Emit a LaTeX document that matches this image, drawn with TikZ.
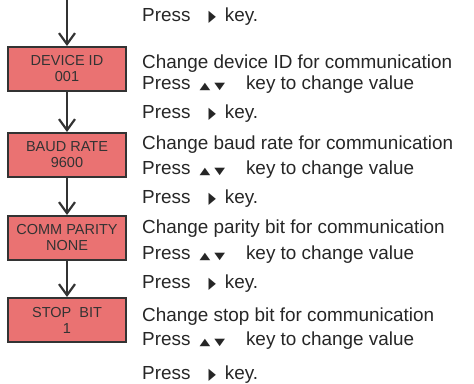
\documentclass[tikz,border=0pt]{standalone}
\usepackage{fontspec}
\setmainfont{Liberation Sans}
\newfontfamily\symf{DejaVu Sans}
\usetikzlibrary{arrows.meta}

\definecolor{boxred}{RGB}{234,114,114}
\definecolor{ink}{RGB}{51,51,51}

% key glyphs
\newcommand{\rkey}{\hspace{18pt}{\symf\fontsize{16}{16}\selectfont\scalebox{0.6}[1]{▶}}\hspace{9pt}}
\newcommand{\udkey}{\hspace{9pt}{\symf\fontsize{14}{14}\selectfont\scalebox{1}[0.7]{▲}\hspace{4pt}\scalebox{1}[0.7]{▼}}\hspace{21pt}}

\begin{document}
\begin{tikzpicture}[x=1pt, y=1pt,
        menubox/.style={draw=ink, line width=2pt, fill=boxred, text=ink,
            minimum width=118pt, minimum height=44pt, align=center,
            font=\fontsize{14.5}{16}\selectfont},
        hint/.style={anchor=base west, inner sep=0pt, text=black!85,
            font=\fontsize{18.9}{21}\selectfont},
        flow/.style={draw=ink, line width=2.2pt,
            -{Straight Barb[length=11pt, width=16pt, line width=2.2pt]}}]
        \useasboundingbox (0,0) rectangle (474,383);

        % the menu boxes
        \coordinate (top) at (67,383);
        \node[menubox] (devid)  at (67,314) {DEVICE ID\\001};
        \node[menubox] (baud)   at (67,228) {BAUD RATE\\9600};
        \node[menubox] (parity) at (67,145) {COMM PARITY\\NONE};
        \node[menubox] (stop)   at (67,63)  {STOP\ \ BIT\\1};

        % the arrows
        \draw[flow] (top) -- (devid);
        \draw[flow] (devid) -- (baud);
        \draw[flow] (baud) -- (parity);
        \draw[flow] (parity) -- (stop);

        % the hints
        \node[hint] (p0) at (142,361.5) {Press\rkey key.};
        \node[hint] (c1) at (142,314.5) {Change device ID for communication};
        \node[hint] (v1) at (142,293.5) {Press\udkey key to change value};
        \node[hint] (p1) at (142,264.5) {Press\rkey key.};
        \node[hint] (c2) at (142,233.5) {Change baud rate for communication};
        \node[hint] (v2) at (142,208.5) {Press\udkey key to change value};
        \node[hint] (p2) at (142,179.5) {Press\rkey key.};
        \node[hint] (c3) at (142,149.5) {Change parity bit for communication};
        \node[hint] (v3) at (142,123.5) {Press\udkey key to change value};
        \node[hint] (p3) at (142,94.5)  {Press\rkey key.};
        \node[hint] (c4) at (142,61.5)  {Change stop bit for communication};
        \node[hint] (v4) at (142,37.5)  {Press\udkey key to change value};
        \node[hint] (p4) at (142,3.5)   {Press\rkey key.};
    \end{tikzpicture}
\end{document}
